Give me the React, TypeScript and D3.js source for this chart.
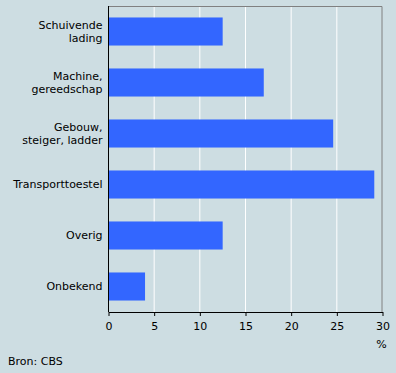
import React, { useEffect, useRef } from "react";
import * as d3 from "d3";

// categories (lines as they wrap in the chart) and values in %
const categories = [
  ["Schuivende", "lading"],
  ["Machine,", "gereedschap"],
  ["Gebouw,", "steiger, ladder"],
  ["Transporttoestel"],
  ["Overig"],
  ["Onbekend"],
];
const values = [12.5, 17.0, 24.6, 29.1, 12.5, 4.0];
const xTicks = [0, 5, 10, 15, 20, 25, 30];

export default function App() {
  const ref = useRef<SVGSVGElement>(null);

  useEffect(() => {
    const W = 396,
      H = 373;
    const margin = { top: 6, right: 13.5, bottom: 61, left: 108.5 };
    const width = W - margin.left - margin.right,
      height = H - margin.top - margin.bottom;
    const font = "'DejaVu Sans', Verdana, sans-serif";

    const svg = d3.select(ref.current);
    svg.selectAll("*").remove();

    svg.append("rect").attr("width", W).attr("height", H).attr("fill", "#cddde2");

    const g = svg
      .append("g")
      .attr("transform", "translate(" + margin.left + "," + margin.top + ")");

    const keys = categories.map((c) => c.join(" "));
    const x = d3.scaleLinear().domain([0, 30]).range([0, width]);
    const y = d3.scaleBand().domain(keys).range([0, height]).paddingInner(0.45).paddingOuter(0.225);

    // grid
    g.selectAll("line.grid")
      .data(xTicks.slice(1, -1))
      .enter()
      .append("line")
      .attr("x1", (d) => x(d))
      .attr("x2", (d) => x(d))
      .attr("y1", 0)
      .attr("y2", height)
      .attr("stroke", "#ffffff")
      .attr("stroke-width", 1);

    // frame top + right
    g.append("path")
      .attr("d", "M0,0.5H" + (width - 0.5) + "V" + height)
      .attr("fill", "none")
      .attr("stroke", "#808080");

    // bars
    g.selectAll("rect.bar")
      .data(values)
      .enter()
      .append("rect")
      .attr("x", 0)
      .attr("y", (d, i) => y(keys[i]) as number)
      .attr("width", (d) => x(d))
      .attr("height", y.bandwidth())
      .attr("fill", "#3366ff");

    // left axis line
    g.append("line")
      .attr("x1", 0)
      .attr("x2", 0)
      .attr("y1", 0)
      .attr("y2", height)
      .attr("stroke", "#000");

    // bottom axis
    const xAxis = g
      .append("g")
      .attr("transform", "translate(0," + height + ")")
      .call(d3.axisBottom(x).tickValues(xTicks).tickSize(4).tickSizeOuter(0).tickFormat(d3.format("d")));
    xAxis.select(".domain").attr("stroke", "#000");
    xAxis.selectAll(".tick line").attr("stroke", "#000");
    xAxis
      .selectAll(".tick text")
      .attr("y", 10)
      .attr("fill", "#000")
      .style("font-family", font)
      .style("font-size", "11px");

    // category labels
    const lineH = 13;
    categories.forEach((lines, i) => {
      const cy = (y(keys[i]) as number) + y.bandwidth() / 2;
      const t = g
        .append("text")
        .attr("text-anchor", "end")
        .attr("x", -6)
        .attr("y", cy - ((lines.length - 1) * lineH) / 2)
        .attr("dy", "0.35em")
        .style("font-family", font)
        .style("font-size", "11px")
        .attr("fill", "#000");
      lines.forEach((l, j) => {
        t.append("tspan").attr("x", -6).attr("dy", j === 0 ? "0.35em" : lineH).text(l);
      });
    });

    // unit
    svg
      .append("text")
      .attr("x", margin.left + x(30) - 1)
      .attr("y", 348)
      .attr("text-anchor", "middle")
      .style("font-family", font)
      .style("font-size", "11px")
      .text("%");

    // source
    svg
      .append("text")
      .attr("x", 8)
      .attr("y", 365)
      .style("font-family", font)
      .style("font-size", "11px")
      .text("Bron: CBS");
  }, []);

  return (
    <svg
      ref={ref}
      width={396}
      height={373}
      style={{ position: "absolute", left: 0, top: 0, display: "block" }}
    />
  );
}
